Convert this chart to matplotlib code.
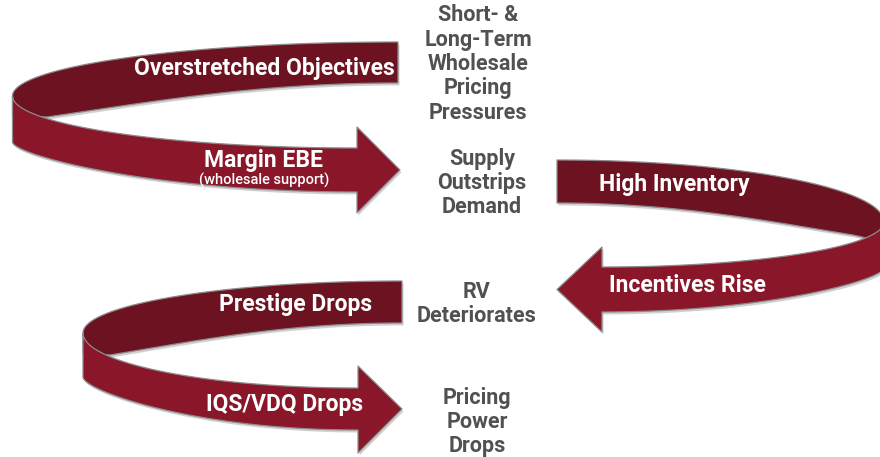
import numpy as np
import matplotlib.pyplot as plt
from matplotlib.patches import Polygon

# labels on the back (upper) part of each loop and on the arrow part
back_labels = ['Overstretched Objectives', 'High Inventory', 'Prestige Drops']
front_labels = ['Margin EBE', 'Incentives Rise', 'IQS/VDQ Drops']
front_notes = ['(wholesale support)', '', '']
side_labels = ['Short- &\nLong-Term\nWholesale\nPricing\nPressures',
               'Supply\nOutstrips\nDemand',
               'RV\nDeteriorates',
               'Pricing\nPower\nDrops']

# loop geometry in pixel space (x right, y down)
loops = [
    dict(xb=398, yb=(42, 83), xt=12.5, yt=(96, 142), fold=(47, 117),
         xa=357, ys=(148, 192), yh=(127, 213), xtip=400),
    dict(xb=557, yb=(160, 203), xt=884, yt=(222, 268), fold=(853, 235),
         xa=602, ys=(267, 312), yh=(247, 332), xtip=557),
    dict(xb=402, yb=(281, 323), xt=83, yt=(333, 377), fold=(110, 355),
         xa=358, ys=(388, 430), yh=(366, 453), xtip=402),
]
back_pos = [(264, 68), (674, 185), (296, 304)]
front_pos = [(264, 161), (687, 285), (285, 404)]
side_pos = [(478, 64), (482, 183), (477, 304), (477, 422)]

BACK = '#6d1221'
FRONT = '#8a1629'
EDGE = '#8c8c8c'
GREY = '#515151'
FONT = ['Roboto', 'DejaVu Sans']


def bez(p0, c1, c2, p3, n=60):
    t = np.linspace(0, 1, n)[:, None]
    p0, c1, c2, p3 = map(np.asarray, (p0, c1, c2, p3))
    return ((1 - t) ** 3 * p0 + 3 * (1 - t) ** 2 * t * c1
            + 3 * (1 - t) * t ** 2 * c2 + t ** 3 * p3)


def patch(ax, pts, color, z):
    shadow = Polygon(pts + np.array([1.5, 2.5]), closed=True, fc='black',
                     ec='none', alpha=0.18, zorder=z - 0.5)
    ax.add_patch(shadow)
    ax.add_patch(Polygon(pts, closed=True, fc=color, ec=EDGE, lw=0.9,
                         joinstyle='round', zorder=z))


def draw_loop(ax, L, z):
    xb, (yb0, yb1) = L['xb'], L['yb']
    xt, (yt0, yt1) = L['xt'], L['yt']
    fx, fy = L['fold']
    xa, (ys0, ys1) = L['xa'], L['ys']
    (yh0, yh1), xtip = L['yh'], L['xtip']

    # back band
    top = bez((xb, yb0), (xb + 0.55 * (xt - xb), yb0),
              (xt, yt0 - 0.55 * (yt0 - yb0)), (xt, yt0))
    inner = bez((fx, fy), (fx + 0.3 * (xb - fx), fy + 0.45 * (yb1 - fy)),
                (xb - 0.4 * (xb - fx), yb1), (xb, yb1))
    back = np.vstack([top, [(xt, yt0 + 20)], inner])
    patch(ax, back, BACK, z)

    # front band with arrow head
    upper = bez((xt, yt0), (xt, yt0 + 0.55 * (ys0 - yt0)),
                (xa - 0.55 * (xa - xt), ys0), (xa, ys0))
    lower = bez((xt, yt1), (xt, yt1 + 0.25 * (ys1 - yt1)),
                (xa - 0.6 * (xa - xt), ys1), (xa, ys1))[::-1]
    head = np.array([(xa, yh0), (xtip, (ys0 + ys1) / 2), (xa, yh1)])
    front = np.vstack([upper, head, lower])
    patch(ax, front, FRONT, z + 1)


fig = plt.figure(figsize=(8.8, 4.57), dpi=100)
ax = fig.add_axes([0, 0, 1, 1])
ax.set_xlim(0, 880)
ax.set_ylim(457, 0)
ax.axis('off')

for i, L in enumerate(loops):
    draw_loop(ax, L, 2 + 3 * i)
    ax.text(*back_pos[i], back_labels[i], color='white', fontsize=16.5,
            fontweight='bold', family=FONT, ha='center', va='center',
            zorder=20)
    ax.text(*front_pos[i], front_labels[i], color='white', fontsize=16.5,
            fontweight='bold', family=FONT, ha='center', va='center',
            zorder=20)
    if front_notes[i]:
        ax.text(front_pos[i][0], front_pos[i][1] + 19, front_notes[i],
                color='white', fontsize=10.5, fontweight='medium',
                family=FONT, ha='center', va='center', zorder=20)

for (x, y), s in zip(side_pos, side_labels):
    ax.text(x, y, s, color=GREY, fontsize=15.5, fontweight='bold',
            family=FONT, ha='center', va='center', linespacing=1.14,
            zorder=20)

fig.savefig('out.png', dpi=100)
